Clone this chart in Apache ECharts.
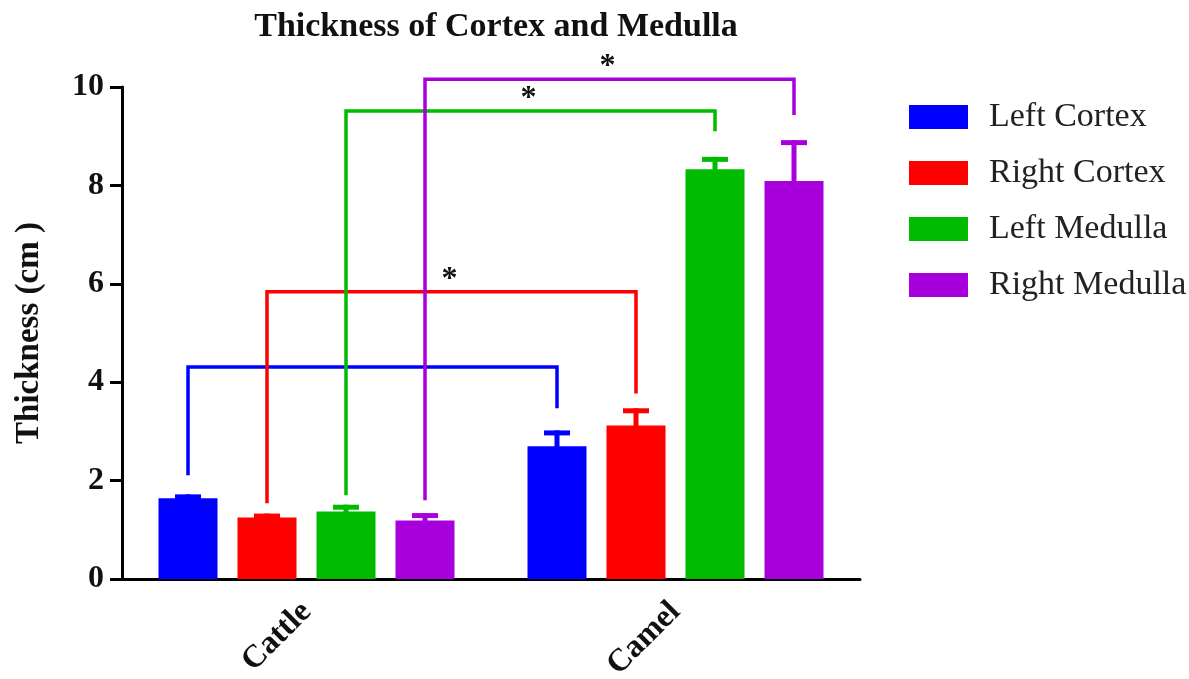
<!DOCTYPE html>
<html>
<head>
<meta charset="utf-8">
<script src="https://cdn.jsdelivr.net/npm/echarts@6/dist/echarts.min.js"></script>
<style>
  html, body { margin: 0; padding: 0; background: #fff; }
  #chart { width: 1189px; height: 679px; }
</style>
</head>
<body>
<div id="chart"></div>
<script>
// categories and series
const categories = ['Cattle', 'Camel'];
const seriesNames = ['Left Cortex', 'Right Cortex', 'Left Medulla', 'Right Medulla'];

// bar means (cm)
const leftCortex = [1.64, 2.70];
const rightCortex = [1.25, 3.12];
const leftMedulla = [1.37, 8.33];
const rightMedulla = [1.19, 8.09];

// top of error bars (mean + error)
const leftCortexErr = [1.72, 3.02];
const rightCortexErr = [1.33, 3.47];
const leftMedullaErr = [1.51, 8.58];
const rightMedullaErr = [1.34, 8.92];

// significance brackets: level of the horizontal line, ends over Cattle / Camel
const bracketLine = [4.31, 5.84, 9.51, 10.16];
const bracketLeftEnd = [2.11, 1.54, 1.70, 1.60];
const bracketRightEnd = [3.47, 3.77, 9.10, 9.43];
const bracketMark = ['', '*', '*', '*'];

const yTicks = [0, 2, 4, 6, 8, 10];

const colors = ['#0000ff', '#ff0000', '#00bb00', '#a800dd'];
const FONT = '"Liberation Serif", "Times New Roman", serif';
const BAR_W = 59;
const STEP = 79;  // bar centre to bar centre

const means = [leftCortex, rightCortex, leftMedulla, rightMedulla];
const errs = [leftCortexErr, rightCortexErr, leftMedullaErr, rightMedullaErr];

// [category, mean, bar, top]
const errData = [];
means.forEach(function (m, b) {
    m.forEach(function (v, c) { errData.push([c, v, b, errs[b][c]]); });
});

// [0, line, bar, leftEnd, rightEnd, mark]
const bracketData = bracketLine.map(function (v, i) {
    return [0, v, i, bracketLeftEnd[i], bracketRightEnd[i], bracketMark[i]];
});

const chart = echarts.init(document.getElementById('chart'));

const barSeries = seriesNames.map(function (name, i) {
    return {
        name: name,
        type: 'bar',
        data: means[i],
        barWidth: BAR_W,
        barGap: ((STEP - BAR_W) / BAR_W * 100) + '%',
        itemStyle: { color: colors[i] },
        z: 2
    };
});

chart.setOption({
    animation: false,
    title: {
        text: 'Thickness of Cortex and Medulla',
        left: 491,
        top: 5,
        textAlign: 'center',
        textStyle: { fontFamily: FONT, fontWeight: 'bold', fontSize: 34, color: '#111' }
    },
    legend: {
        orient: 'vertical',
        left: 904,
        top: 95,
        itemWidth: 59,
        itemHeight: 24,
        itemGap: 22,
        icon: 'rect',
        data: seriesNames,
        textStyle: {
            fontFamily: FONT, fontSize: 34, color: '#222',
            padding: [0, 0, 0, 16]
        }
    },
    grid: { left: 122, right: 329, top: 87, bottom: 100, outerBoundsMode: 'none', containLabel: false },
    xAxis: {
        type: 'category',
        data: categories,
        axisLine: { lineStyle: { color: '#000', width: 3 } },
        axisTick: { alignWithLabel: true, length: 10, lineStyle: { color: '#000', width: 3 } },
        axisLabel: {
            rotate: 45, margin: 28, color: '#111',
            fontFamily: FONT, fontWeight: 'bold', fontSize: 32
        }
    },
    yAxis: {
        type: 'value',
        min: 0, max: 10, interval: 2,
        name: 'Thickness (cm )',
        nameLocation: 'middle',
        nameRotate: 90,
        nameGap: 76,
        nameTextStyle: { fontFamily: FONT, fontWeight: 'bold', fontSize: 33, color: '#111' },
        axisLine: { show: true, lineStyle: { color: '#000', width: 3 } },
        axisTick: { show: true, length: 12, lineStyle: { color: '#000', width: 3 } },
        splitLine: { show: false },
        axisLabel: {
            margin: 18, color: '#111',
            fontFamily: FONT, fontWeight: 'bold', fontSize: 32,
            formatter: function (v) { return yTicks.indexOf(v) >= 0 ? String(v) : ''; }
        }
    },
    series: barSeries.concat([
        {
            type: 'custom',
            name: 'errors',
            data: errData,
            encode: { x: 0, y: 1 },
            z: 3,
            renderItem: function (params, api) {
                const c = api.value(0), mean = api.value(1), b = api.value(2), top = api.value(3);
                const base = api.coord([c, mean]);
                const t = api.coord([c, top]);
                const x = base[0] + (b - 1.5) * STEP;
                return {
                    type: 'group',
                    children: [
                        { type: 'rect', shape: { x: x - 2.5, y: t[1], width: 5, height: base[1] - t[1] + 1 }, style: { fill: colors[b] } },
                        { type: 'rect', shape: { x: x - 13, y: t[1], width: 26, height: 5 }, style: { fill: colors[b] } }
                    ]
                };
            }
        },
        {
            type: 'custom',
            name: 'brackets',
            data: bracketData,
            encode: { x: 0, y: 1 },
            clip: false,
            z: 4,
            renderItem: function (params, api) {
                const line = api.value(1), b = api.value(2);
                const left = api.value(3), right = api.value(4);
                const mark = bracketData[params.dataIndex][5];
                const off = (b - 1.5) * STEP;
                const pl = api.coord([0, left]);
                const pt = api.coord([0, line]);
                const pr = api.coord([1, right]);
                const xl = pl[0] + off, xr = pr[0] + off;
                const children = [{
                    type: 'polyline',
                    shape: { points: [[xl, pl[1]], [xl, pt[1]], [xr, pt[1]], [xr, pr[1]]] },
                    style: { stroke: colors[b], lineWidth: 3.5, fill: null }
                }];
                if (mark) {
                    children.push({
                        type: 'text',
                        style: {
                            x: (xl + xr) / 2 - 2, y: pt[1] - 12, text: mark,
                            textAlign: 'center', textVerticalAlign: 'middle',
                            font: 'bold 32px ' + FONT, fill: '#111'
                        }
                    });
                }
                return { type: 'group', children: children };
            }
        }
    ])
});
</script>
</body>
</html>
